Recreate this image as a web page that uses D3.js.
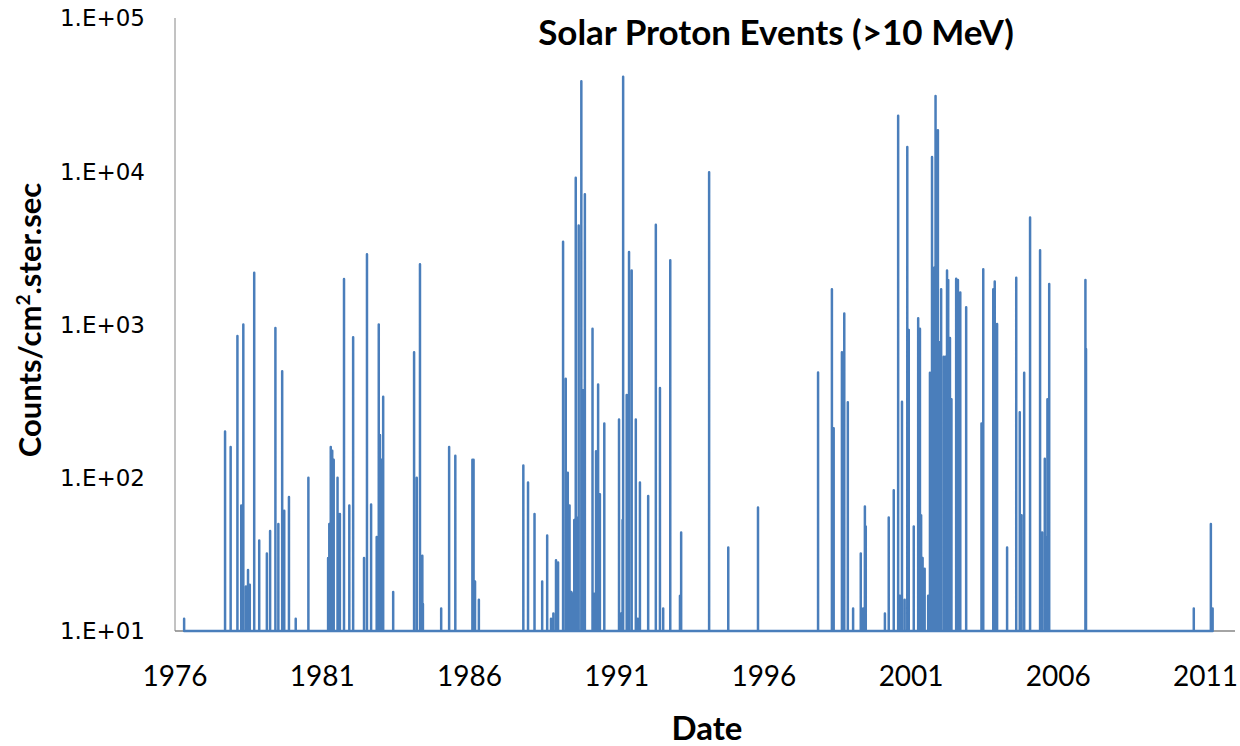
<!DOCTYPE html>
<html>
<head>
<meta charset="utf-8">
<script src="https://cdn.jsdelivr.net/npm/d3@7"></script>
<style>
  body { margin: 0; background: #fff; }
  svg { display: block; }
</style>
</head>
<body>
<div id="chart"></div>
<script>
// event dates (decimal years) and peak flux
let eventYears = [
  1976.31, 1977.70, 1977.89, 1978.12, 1978.25, 1978.32, 1978.41, 1978.48, 1978.54, 1978.69,
  1978.86, 1979.12, 1979.23, 1979.41, 1979.51, 1979.64, 1979.71, 1979.87, 1980.10, 1980.53,
  1981.20, 1981.24, 1981.29, 1981.34, 1981.39, 1981.52, 1981.60, 1981.74, 1981.92, 1982.05,
  1982.42, 1982.52, 1982.66, 1982.85, 1982.87, 1982.92, 1982.96, 1983.01, 1983.07, 1983.41,
  1984.12, 1984.21, 1984.32, 1984.40, 1984.42, 1985.04, 1985.31, 1985.52, 1986.10, 1986.14,
  1986.19, 1986.32, 1987.83, 1987.99, 1988.21, 1988.47, 1988.64, 1988.77, 1988.85, 1988.94,
  1989.01, 1989.18, 1989.27, 1989.34, 1989.40, 1989.46, 1989.51, 1989.56, 1989.61, 1989.65,
  1989.71, 1989.80, 1989.86, 1989.92, 1990.18, 1990.24, 1990.30, 1990.37, 1990.43, 1990.58,
  1991.08, 1991.15, 1991.20, 1991.22, 1991.34, 1991.42, 1991.51, 1991.65, 1991.72, 1991.79,
  1992.07, 1992.33, 1992.47, 1992.58, 1992.82, 1993.15, 1993.19, 1994.14, 1994.79, 1995.80,
  1997.84, 1998.31, 1998.37, 1998.65, 1998.73, 1998.85, 1999.03, 1999.29, 1999.37, 1999.43,
  1999.46, 2000.11, 2000.24, 2000.41, 2000.56, 2000.62, 2000.69, 2000.78, 2000.87, 2000.92,
  2001.09, 2001.24, 2001.30, 2001.34, 2001.39, 2001.46, 2001.58, 2001.64, 2001.71, 2001.78,
  2001.83, 2001.91, 2001.95, 2002.02, 2002.11, 2002.17, 2002.22, 2002.26, 2002.32, 2002.37,
  2002.53, 2002.59, 2002.63, 2002.67, 2002.87, 2003.39, 2003.45, 2003.79, 2003.84, 2003.92,
  2004.26, 2004.57, 2004.69, 2004.75, 2004.84, 2005.04, 2005.38, 2005.45, 2005.54, 2005.59,
  2005.63, 2005.69, 2006.92, 2006.94, 2010.60, 2011.18, 2011.24
];

let eventPeaks = [
  12, 200, 159, 840, 66, 1000, 19.5, 25, 20, 2180,
  39, 32, 45, 950, 50, 495, 61, 75, 12, 100,
  30, 50, 159, 150, 131, 100, 58, 1980, 66, 825,
  30, 2870, 67, 41, 25, 1000, 190, 131, 338, 18,
  660, 100, 2470, 31, 15, 14, 159, 139, 131, 131,
  21, 16, 120, 93, 58, 21, 42, 12, 13, 29,
  28, 3470, 442, 108, 66, 18, 17.5, 53, 9060, 55,
  4420, 38700, 373, 7080, 937, 17.5, 149, 406, 78, 226,
  240, 13, 53, 41400, 347, 2970, 2250, 240, 12, 93,
  76, 4470, 385, 14, 2630, 17, 44, 9840, 35, 64,
  487, 1700, 210, 660, 1180, 311, 14, 32, 14, 65,
  48, 13, 55, 83, 23000, 17, 313, 16, 14400, 920,
  48, 1100, 937, 57, 30, 25.5, 17, 485, 12400, 2350,
  31000, 18500, 770, 1700, 617, 617, 2250, 1955, 817, 325,
  1990, 1955, 202, 1620, 1294, 226, 2290, 1700, 1910, 1007,
  35, 2020, 268, 57, 485, 4990, 3050, 44, 133, 41,
  325, 1840, 1950, 692, 14, 50, 14
];

let baseValue = 10;
let yTicks = [1e1, 1e2, 1e3, 1e4, 1e5];
let yTickLabels = ["1.E+01", "1.E+02", "1.E+03", "1.E+04", "1.E+05"];
let xTickYears = [1976, 1981, 1986, 1991, 1996, 2001, 2006, 2011];

let width = 1240,
    height = 746,
    plotLeft = 175,
    plotRight = 1235,
    plotTop = 18,
    plotBottom = 631;

let x = d3.scaleLinear().domain([1976, 2012]).range([plotLeft, plotRight]);
let y = d3.scaleLog().domain([1e1, 1e5]).range([plotBottom, plotTop]);

let svg = d3.select("#chart")
      .append("svg")
      .attr("width", width)
      .attr("height", height);

// each event is a spike from the baseline up to its peak and back
let points = [];
eventYears.forEach(function(t, i) {
  points.push([t, baseValue]);
  points.push([t, eventPeaks[i]]);
  points.push([t, baseValue]);
});

// axes (plain lines, no ticks)
svg.append("line")
    .attr("x1", plotLeft).attr("x2", plotLeft)
    .attr("y1", plotTop).attr("y2", plotBottom)
    .style("stroke", "#868686")
    .style("stroke-width", 1);

svg.append("line")
    .attr("x1", plotLeft).attr("x2", plotRight)
    .attr("y1", plotBottom).attr("y2", plotBottom)
    .style("stroke", "#868686")
    .style("stroke-width", 1.5);

let line = d3.line()
      .x(function(d) { return x(d[0]); })
      .y(function(d) { return y(d[1]); });

svg.append("path")
    .datum(points)
    .attr("d", line)
    .style("fill", "none")
    .style("stroke", "#4a7ebb")
    .style("stroke-width", 2.5)
    .style("stroke-linejoin", "round");

// y tick labels
svg.selectAll(".ytick")
    .data(yTicks)
    .enter().append("text")
    .attr("class", "ytick")
    .attr("x", 145)
    .attr("y", function(d) { return y(d); })
    .attr("dy", "0.36em")
    .attr("text-anchor", "end")
    .style("font-family", "DejaVu Sans")
    .style("font-size", "23px")
    .style("fill", "#000")
    .text(function(d, i) { return yTickLabels[i]; });

// x tick labels
svg.selectAll(".xtick")
    .data(xTickYears)
    .enter().append("text")
    .attr("class", "xtick")
    .attr("x", function(d) { return x(d); })
    .attr("y", 686)
    .attr("text-anchor", "middle")
    .style("font-family", "Lato")
    .style("font-size", "28px")
    .style("fill", "#000")
    .text(function(d) { return d; });

// title
svg.append("text")
    .attr("x", 776)
    .attr("y", 45)
    .attr("text-anchor", "middle")
    .style("font-family", "Lato")
    .style("font-weight", "bold")
    .style("font-size", "35px")
    .text("Solar Proton Events (>10 MeV)");

// axis titles
svg.append("text")
    .attr("x", 707)
    .attr("y", 740)
    .attr("text-anchor", "middle")
    .style("font-family", "Lato")
    .style("font-weight", "bold")
    .style("font-size", "33px")
    .text("Date");

let yTitle = svg.append("text")
    .attr("transform", "translate(41," + 320 + ") rotate(-90)")
    .attr("text-anchor", "middle")
    .style("font-family", "Lato")
    .style("font-weight", "bold")
    .style("font-size", "31px");
yTitle.append("tspan").text("Counts/cm");
yTitle.append("tspan").attr("baseline-shift", "super").style("font-size", "19px").text("2");
yTitle.append("tspan").text(".ster.sec");
</script>
</body>
</html>
